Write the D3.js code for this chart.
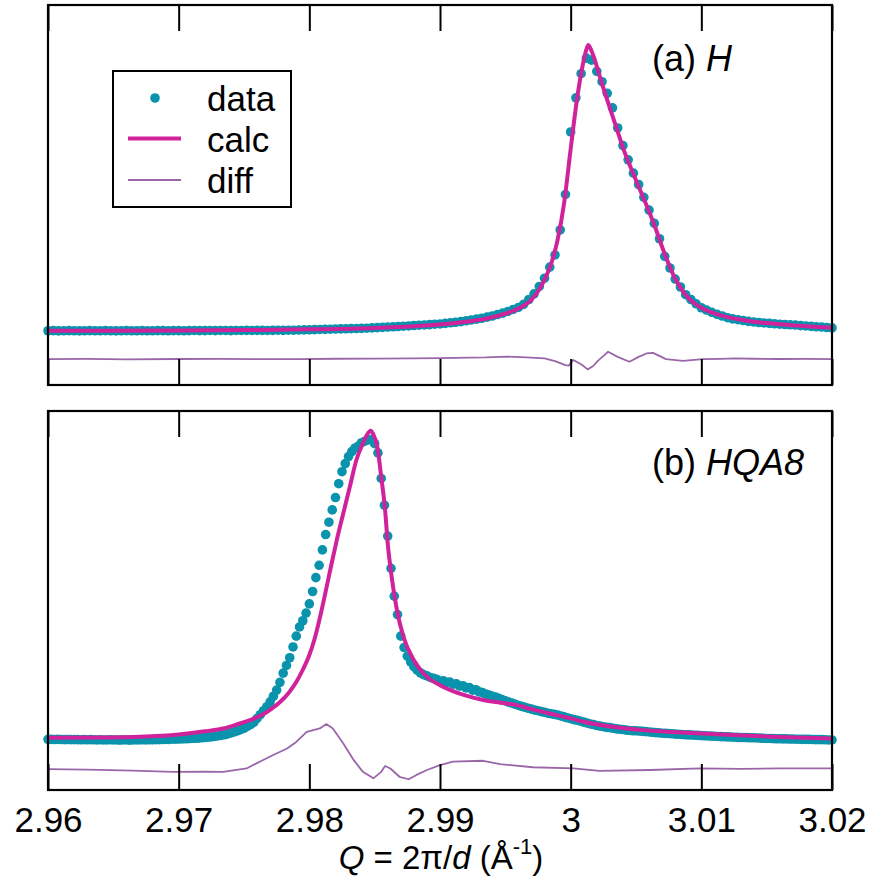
<!DOCTYPE html>
<html><head><meta charset="utf-8">
<script src="https://cdn.jsdelivr.net/npm/d3@7"></script>
<style>
html,body{margin:0;padding:0;background:#fff;}
svg text{font-family:"Liberation Sans",Arial,Helvetica,sans-serif;fill:#000;}
</style></head>
<body>
<svg id="chart" width="873" height="894"></svg>
<script>
// ---------------- DATA ----------------
const qDomain = [2.96, 3.02];
const qTickValues = [2.96, 2.97, 2.98, 2.99, 3.00, 3.01, 3.02];
const qTickLabels = ["2.96", "2.97", "2.98", "2.99", "3", "3.01", "3.02"];
const legendLabels = ["data", "calc", "diff"];

// Panel (a) H : measured points on a uniform Q grid
const hQStart = 2.96, hQStep = 0.0004;
const hData = [
 0.0,0.05,-0.05,0.0,0.05,0.0,-0.05,0.0,0.05,0.0,
 0.0,0.05,0.0,-0.05,0.0,0.05,0.0,0.0,0.05,0.0,
 0.0,0.05,0.05,0.0,0.05,0.05,0.0,0.05,0.1,0.05,
 0.05,0.1,0.05,0.1,0.1,0.05,0.1,0.1,0.15,0.1,
 0.15,0.15,0.1,0.15,0.2,0.15,0.2,0.2,0.25,0.3,
 0.35,0.4,0.45,0.5,0.55,0.6,0.65,0.7,0.75,0.8,
 0.85,0.9,1.0,1.1,1.2,1.3,1.4,1.5,1.6,1.7,
 1.85,1.95,2.05,2.15,2.3,2.4,2.6,2.8,3.0,3.2,
 3.5,3.8,4.1,4.4,4.8,5.2,5.7,6.2,6.8,7.5,
 8.2,9.3,11.0,13.0,15.6,18.5,22.4,26.7,35.5,48,
 70,82,90.5,96,95.3,91.3,87.7,83.6,78.5,71.4,
 65.2,60.2,55.5,51.5,47.0,42.5,37.8,32.4,26.2,22.1,
 18.2,15.4,12.7,11.0,9.5,8.1,7.3,6.5,5.8,5.2,
 4.6,4.2,3.9,3.6,3.3,3.1,2.9,2.75,2.6,2.45,
 2.3,2.2,2.1,2.0,1.8,1.7,1.55,1.4,1.3,1.15,1.0
];
const hCalcQ = [2.960,2.970,2.975,2.980,2.985,2.988,2.990,2.992,2.9935,2.995,2.996,2.997,2.9976,2.998,2.9985,2.999,2.9995,3.0000,3.0005,3.0009,3.0012,3.00135,3.0015,3.0018,3.0022,3.0026,3.003,3.0035,3.004,3.0045,3.005,3.0055,3.006,3.0065,3.007,3.0075,3.008,3.0085,3.009,3.0095,3.010,3.011,3.012,3.013,3.014,3.015,3.0165,3.018,3.020];
const hCalc  = [0.0,0.1,0.25,0.5,1.0,1.6,2.2,3.2,4.2,6.0,7.8,11.0,14.5,18.0,23.5,32,45,64,82,93,99,100.6,99.5,96,90,84,78.5,71.5,64.5,58.5,53,47.5,42,36,29.5,23.5,18.3,14.5,11.6,9.6,8.1,6.1,4.8,3.9,3.2,2.7,2.1,1.6,1.1];
const hDiffQ = [2.960,2.963,2.966,2.970,2.973,2.976,2.9793,2.982,2.985,2.988,2.990,2.9935,2.9951,2.9966,2.998,2.9988,2.9996,2.99985,3.0002,3.0008,3.0013,3.0017,3.0021,3.0026,3.00286,3.0036,3.0045,3.0052,3.0058,3.0063,3.0073,3.0086,3.0101,3.0115,3.0126,3.014,3.016,3.018,3.020];
const hDiff  = [0.0,0.1,-0.05,0.05,0.1,0.0,0.0,0.15,0.2,0.3,0.35,0.6,0.9,0.6,0.3,-0.7,-2.1,-2.3,-0.3,-1.8,-3.6,-2.5,-0.5,1.5,2.6,0.8,-0.9,0.8,2.0,2.2,0.0,-0.6,0.0,0.1,0.25,0.15,0.05,0.1,0.0];

// Panel (b) HQA8
const hqaQStart = 2.96, hqaQStep = 0.00025;
const hqaData = [
 0.0,0.0,-0.05,0.0,-0.05,-0.1,-0.05,-0.1,-0.1,-0.1,
 -0.15,-0.1,-0.15,-0.1,-0.15,-0.2,-0.15,-0.2,-0.2,-0.15,
 -0.2,-0.2,-0.25,-0.2,-0.2,-0.25,-0.2,-0.2,-0.2,-0.15,
 -0.2,-0.15,-0.15,-0.1,-0.1,-0.05,0.0,0.0,0.05,0.05,
 0.1,0.15,0.2,0.25,0.3,0.35,0.4,0.5,0.6,0.7,
 0.8,0.95,1.1,1.3,1.5,1.75,2.1,2.4,2.8,3.2,
 3.6,4.2,4.8,5.5,6.8,8.0,9.3,10.6,12.2,14.0,
 16.0,18.5,21.5,24.0,26.5,30.0,33.5,36.5,38.5,41.0,
 44.0,48.0,52.5,56.5,61.5,66.5,70.5,74.5,78.5,83.0,
 86.9,89.5,91.8,93.4,94.6,95.2,96.3,96.8,97.2,97.3,
 96.0,93.0,84.7,76.0,66.0,55.5,46.5,40.5,33.5,29.8,
 27.0,25.2,23.6,22.5,21.6,21.0,20.6,20.1,19.8,19.5,
 18.8,19.0,18.5,18.6,17.9,18.0,17.3,17.4,16.7,16.8,
 16.0,16.1,15.4,15.2,14.7,14.4,14.0,13.7,13.3,12.9,
 12.5,12.1,11.8,11.4,11.0,10.7,10.4,10.1,9.8,9.5,
 9.3,9.0,8.8,8.5,8.3,8.1,7.9,7.6,7.3,7.0,
 6.7,6.4,6.2,5.9,5.6,5.3,5.0,4.8,4.5,4.3,
 4.1,3.9,3.8,3.6,3.4,3.3,3.2,3.0,2.9,2.8,
 2.8,2.7,2.6,2.5,2.4,2.3,2.2,2.1,2.0,1.95,
 1.9,1.8,1.7,1.65,1.6,1.5,1.45,1.4,1.35,1.3,
 1.2,1.15,1.1,1.05,1.0,0.95,0.9,0.85,0.8,0.75,
 0.7,0.65,0.6,0.6,0.55,0.5,0.5,0.45,0.4,0.35,
 0.3,0.3,0.25,0.2,0.2,0.15,0.15,0.1,0.1,0.05,
 0.05,0.0,0.0,0.0,-0.05,-0.1,-0.1,-0.1,-0.15,-0.2,-0.2
];
const hqaCalcQ = [2.960,2.964,2.967,2.970,2.972,2.9735,2.9745,2.9755,2.9765,2.9772,2.9778,2.9784,2.979,2.9795,2.980,2.9804,2.9809,2.9813,2.9817,2.9821,2.9826,2.9831,2.9836,2.9841,2.9844,2.9847,2.9849,2.9852,2.9855,2.9858,2.986,2.9863,2.9867,2.9872,2.988,2.989,2.990,2.9908,2.992,2.9933,2.9946,2.9959,2.997,2.9984,3.000,3.001,3.0035,3.0055,3.0073,3.010,3.0124,3.016,3.020];
const hqaCalc  = [0.5,0.6,0.85,1.6,2.6,3.6,4.9,6.3,8.2,10.2,12.3,15.0,18.6,22.6,27.4,32.6,41.2,49.0,57.0,64.7,73.4,82,90.7,96.1,98.8,100.2,99,95,85.3,74.4,63.6,52.8,42,33.3,25.7,20.3,17.6,16,14.2,12.8,11.9,11.1,9.8,8.4,6.8,5.7,3.9,3.0,2.5,1.9,1.4,0.8,0.3];
const hqaDiffQ = [2.960,2.963,2.9665,2.9696,2.972,2.9734,2.9752,2.9762,2.9772,2.9783,2.979,2.9798,2.9808,2.9813,2.9818,2.9826,2.9834,2.9841,2.9849,2.9855,2.9858,2.9862,2.9869,2.9876,2.9882,2.989,2.990,2.991,2.9933,2.9946,2.9971,3.0002,3.0022,3.0061,3.0099,3.013,3.016,3.020];
const hqaDiff  = [0.0,-0.2,-0.5,-0.9,-0.8,-0.9,0.2,2.4,4.5,6.7,8.8,12.1,13.2,14.6,13.2,8.3,2.9,-0.9,-3.0,-0.9,1.0,0.2,-2.5,-3.3,-1.9,-0.3,1.3,2.4,2.7,1.6,0.6,0.2,-0.6,-0.3,0.2,0.1,0.2,0.2];

// ---------------- LAYOUT / STYLE ----------------
const colData = "#0a93ad", colCalc = "#d0239b", colDiff = "#9a66a8";
const left = 48, right = 832;
const panels = [
  {top: 5, bottom: 385, yDomain: [-19.1, 114.7], diffOffset: -10.0,
   qStart: hQStart, qStep: hQStep, data: hData, calcQ: hCalcQ, calc: hCalc, diffQ: hDiffQ, diff: hDiff,
   label: ["(a) ", "H"], labelY: 71},
  {top: 411, bottom: 790, yDomain: [-16.44, 106.6], diffOffset: -9.65,
   qStart: hqaQStart, qStep: hqaQStep, data: hqaData, calcQ: hqaCalcQ, calc: hqaCalc, diffQ: hqaDiffQ, diff: hqaDiff,
   label: ["(b) ", "HQA8"], labelY: 475}
];

const svg = d3.select("#chart");
const x = d3.scaleLinear().domain(qDomain).range([left, right]);

panels.forEach((p, pi) => {
  const y = d3.scaleLinear().domain(p.yDomain).range([p.bottom, p.top]);
  const g = svg.append("g");

  // data points
  const pts = p.data.map((v, i) => ({q: p.qStart + p.qStep * i, v}));
  g.append("g").selectAll("circle").data(pts).join("circle")
    .attr("cx", d => x(d.q)).attr("cy", d => y(d.v)).attr("r", 4.8)
    .attr("fill", colData);

  // calc line
  const calcPts = p.calcQ.map((q, i) => ({q, v: p.calc[i]}));
  g.append("path").datum(calcPts)
    .attr("fill", "none").attr("stroke", colCalc).attr("stroke-width", 4)
    .attr("stroke-linejoin", "round")
    .attr("d", d3.line().x(d => x(d.q)).y(d => y(d.v)).curve(d3.curveMonotoneX));

  // diff line
  const diffPts = p.diffQ.map((q, i) => ({q, v: p.diff[i] + p.diffOffset}));
  g.append("path").datum(diffPts)
    .attr("fill", "none").attr("stroke", colDiff).attr("stroke-width", 1.8)
    .attr("stroke-linejoin", "round")
    .attr("d", d3.line().x(d => x(d.q)).y(d => y(d.v)));

  // axes: inward ticks at top and bottom
  const topAxis = d3.axisTop(x).tickValues(qTickValues).tickSize(-26).tickFormat("");
  const ga = svg.append("g").attr("transform", `translate(0,${p.top})`).call(topAxis);
  ga.select(".domain").remove();
  ga.selectAll("line").attr("stroke", "#000").attr("stroke-width", 2);

  const botAxis = d3.axisBottom(x).tickValues(qTickValues).tickSize(-26).tickPadding(17)
    .tickFormat((d, i) => pi === 1 ? qTickLabels[i] : "");
  const gb = svg.append("g").attr("transform", `translate(0,${p.bottom})`).call(botAxis);
  gb.select(".domain").remove();
  gb.selectAll("line").attr("stroke", "#000").attr("stroke-width", 2);
  gb.selectAll("text").attr("font-size", 35).attr("fill", "#000")
    .attr("font-family", '"Liberation Sans", Arial, sans-serif');

  // frame
  svg.append("rect").attr("x", left).attr("y", p.top)
    .attr("width", right - left).attr("height", p.bottom - p.top)
    .attr("fill", "none").attr("stroke", "#000").attr("stroke-width", 2.2);

  // panel label
  const t = svg.append("text").attr("x", 652).attr("y", p.labelY).attr("font-size", 36);
  t.append("tspan").text(p.label[0]);
  t.append("tspan").attr("font-style", "italic").text(p.label[1]);
});

// legend
const lg = svg.append("g");
lg.append("rect").attr("x", 113).attr("y", 71).attr("width", 178).attr("height", 136)
  .attr("fill", "#fff").attr("stroke", "#000").attr("stroke-width", 2);
lg.append("circle").attr("cx", 155).attr("cy", 98).attr("r", 4.8).attr("fill", colData);
lg.append("line").attr("x1", 128).attr("x2", 181).attr("y1", 138.5).attr("y2", 138.5)
  .attr("stroke", colCalc).attr("stroke-width", 4);
lg.append("line").attr("x1", 128).attr("x2", 181).attr("y1", 180).attr("y2", 180)
  .attr("stroke", colDiff).attr("stroke-width", 2);
const legendBaselines = [111, 151.5, 192.5];
legendLabels.forEach((s, i) => {
  lg.append("text").attr("x", 207).attr("y", legendBaselines[i]).attr("font-size", 35).text(s);
});

// x axis title
const xt = svg.append("text").attr("x", 441).attr("y", 869).attr("text-anchor", "middle").attr("font-size", 33);
xt.append("tspan").attr("font-style", "italic").text("Q");
xt.append("tspan").text(" = 2π/");
xt.append("tspan").attr("font-style", "italic").text("d");
xt.append("tspan").text(" (Å");
xt.append("tspan").attr("font-size", 22).attr("dy", -15).text("-1");
xt.append("tspan").attr("dy", 15).text(")");
</script>
</body></html>
